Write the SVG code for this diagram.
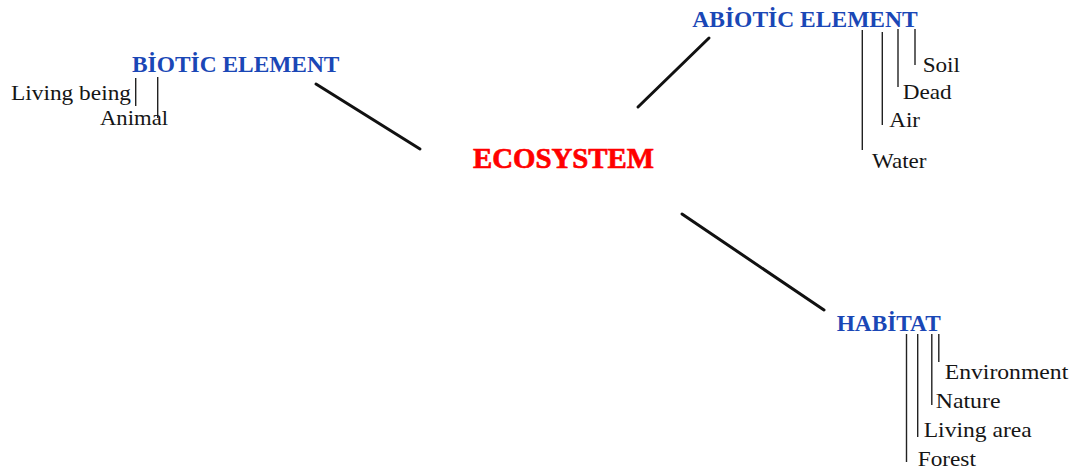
<svg xmlns="http://www.w3.org/2000/svg" width="1073" height="471" viewBox="0 0 1073 471">
  <style>
    text { font-family: "Liberation Serif", Tinos, "Nimbus Roman", "Nimbus Roman No9 L", FreeSerif, "DejaVu Serif", "Noto Serif", "Times New Roman", serif; }
    .hub { font-weight: bold; font-size: 30px; fill: #ff0000; stroke: #ff0000; stroke-width: 0.7px; }
    .cat { font-weight: bold; font-size: 22.5px; fill: #1a47b6; }
    .item { font-size: 22px; fill: #151515; }
    .spoke { stroke: #111; stroke-width: 3; stroke-linecap: round; fill: none; }
    .leader { stroke: #222; stroke-width: 1.4; fill: none; }
  </style>
  <rect width="1073" height="471" fill="#ffffff"/>

  <!-- spokes from the centre to each category, plus thin leader bars to the sub-items -->
  <g id="connectors">
    <line class="spoke" x1="316" y1="84" x2="420" y2="149"/>
    <line class="spoke" x1="638" y1="107" x2="709" y2="38"/>
    <line class="spoke" x1="682" y1="214" x2="824" y2="310"/>

    <g id="leaders-biotic">
      <line class="leader" x1="135.7" y1="78" x2="135.7" y2="106"/>
      <line class="leader" x1="157.7" y1="77" x2="157.7" y2="118"/>
    </g>
    <g id="leaders-abiotic">
      <line class="leader" x1="862.3" y1="30" x2="862.3" y2="150"/>
      <line class="leader" x1="882.3" y1="32" x2="882.3" y2="125"/>
      <line class="leader" x1="898" y1="29" x2="898" y2="87"/>
      <line class="leader" x1="915" y1="29" x2="915" y2="65"/>
    </g>
    <g id="leaders-habitat">
      <line class="leader" x1="906.5" y1="334" x2="906.5" y2="462"/>
      <line class="leader" x1="917.7" y1="334" x2="917.7" y2="437"/>
      <line class="leader" x1="931.8" y1="334" x2="931.8" y2="405"/>
      <line class="leader" x1="938.8" y1="334" x2="938.8" y2="362"/>
    </g>
  </g>

  <g id="node-ecosystem">
    <text class="hub" x="473" y="168" textLength="181" lengthAdjust="spacingAndGlyphs">ECOSYSTEM</text>
  </g>

  <g id="node-biotic">
    <text class="cat" x="132" y="72.3" textLength="207.5" lengthAdjust="spacingAndGlyphs">BİOTİC ELEMENT</text>
  </g>
  <g id="node-living-being">
    <text class="item" x="11" y="99.5" textLength="120" lengthAdjust="spacingAndGlyphs">Living being</text>
  </g>
  <g id="node-animal">
    <text class="item" x="100" y="125" textLength="68" lengthAdjust="spacingAndGlyphs">Animal</text>
  </g>

  <g id="node-abiotic">
    <text class="cat" x="692.3" y="26.7" textLength="225.4" lengthAdjust="spacingAndGlyphs">ABİOTİC ELEMENT</text>
  </g>
  <g id="node-soil">
    <text class="item" x="922.7" y="72" textLength="37.3" lengthAdjust="spacingAndGlyphs">Soil</text>
  </g>
  <g id="node-dead">
    <text class="item" x="902.7" y="99.3" textLength="49" lengthAdjust="spacingAndGlyphs">Dead</text>
  </g>
  <g id="node-air">
    <text class="item" x="889.3" y="126.5" textLength="30.7" lengthAdjust="spacingAndGlyphs">Air</text>
  </g>
  <g id="node-water">
    <text class="item" x="872" y="168" textLength="54.5" lengthAdjust="spacingAndGlyphs">Water</text>
  </g>

  <g id="node-habitat">
    <text class="cat" x="836.7" y="330.7" textLength="104" lengthAdjust="spacingAndGlyphs">HABİTAT</text>
  </g>
  <g id="node-environment">
    <text class="item" x="944.7" y="378.8" textLength="123.6" lengthAdjust="spacingAndGlyphs">Environment</text>
  </g>
  <g id="node-nature">
    <text class="item" x="935.7" y="408.3" textLength="64.8" lengthAdjust="spacingAndGlyphs">Nature</text>
  </g>
  <g id="node-living-area">
    <text class="item" x="923.7" y="437" textLength="108" lengthAdjust="spacingAndGlyphs">Living area</text>
  </g>
  <g id="node-forest">
    <text class="item" x="917.7" y="466" textLength="58.2" lengthAdjust="spacingAndGlyphs">Forest</text>
  </g>
</svg>
